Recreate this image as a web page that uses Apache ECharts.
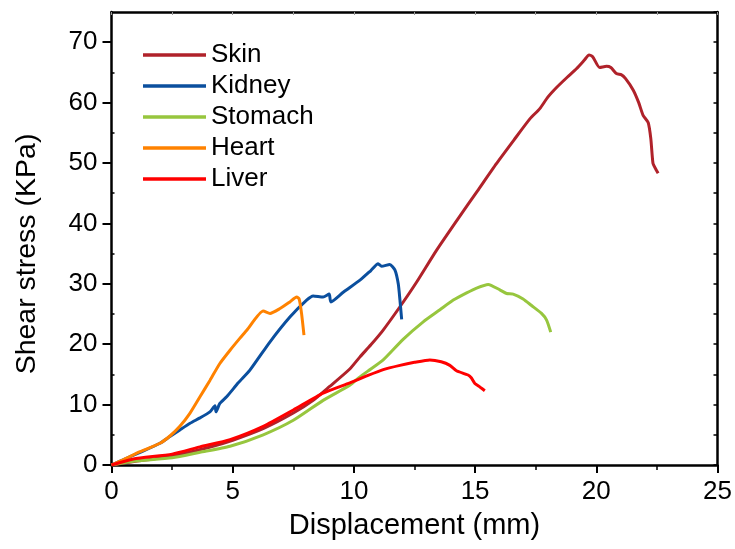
<!DOCTYPE html>
<html><head><meta charset="utf-8">
<script src="https://cdn.jsdelivr.net/npm/echarts@6/dist/echarts.min.js"></script>
<style>html,body{margin:0;padding:0;background:#fff}#c{width:735px;height:549px}</style>
</head><body><div id="c"></div>
<script>
const seriesNames = ['Skin', 'Kidney', 'Stomach', 'Heart', 'Liver'];
const colors = ['#B0222A', '#0B4F9E', '#97C63E', '#FF8200', '#FF0000'];
const xTicks = [0, 5, 10, 15, 20, 25];
const yTicks = [0, 10, 20, 30, 40, 50, 60, 70];
const yMinorTicks = [5, 15, 25, 35, 45, 55, 65];

const skin = [[0,0],[1,0.6],[2.5,1.5],[4,2.9],[5,4.1],[6.3,6.1],[7.5,8.6],[8.32,10.7],[9.0,13.0],[9.83,15.9],[10.25,17.9],[10.7,19.9],[11.2,22.3],[11.9,26.2],[12.59,30.3],[13.4,35.5],[14.3,40.8],[15.1,45.4],[15.88,49.9],[16.6,53.8],[17.26,57.3],[17.67,59.0],[18.0,60.9],[18.36,62.5],[18.8,64.2],[19.18,65.6],[19.5,67.0],[19.7,67.9],[19.85,67.6],[20.14,65.8],[20.42,66.0],[20.6,65.8],[20.83,64.8],[21.04,64.6],[21.2,64.0],[21.52,62.1],[21.75,60.0],[21.93,57.9],[22.14,56.7],[22.25,54.0],[22.34,49.9],[22.45,49.0],[22.55,48.3]];
const kidney = [[0,0],[0.5,0.9],[1.18,2.1],[2.0,3.6],[2.41,4.7],[2.82,5.8],[3.24,6.9],[3.65,7.8],[4.06,8.8],[4.27,9.8],[4.31,8.8],[4.47,10.2],[4.75,11.3],[5.23,13.6],[5.71,15.7],[6.54,20.4],[7.36,24.5],[8.05,27.3],[8.32,28.0],[8.73,27.8],[8.98,28.3],[9.05,27.0],[9.56,28.6],[10.25,30.6],[10.7,32.2],[11.0,33.3],[11.14,32.9],[11.48,33.2],[11.69,32.3],[11.83,30.0],[11.9,27.3],[11.97,24.1]];
const stomach = [[0,0],[0.9,0.6],[2.5,1.2],[3.65,2.1],[4.89,3.1],[6.26,5.0],[7.5,7.4],[8.73,10.7],[9.83,13.2],[10.25,14.6],[10.7,15.9],[11.21,17.4],[12.03,20.8],[12.86,23.7],[13.55,25.7],[14.1,27.3],[14.65,28.5],[15.06,29.3],[15.54,29.9],[16.02,29.0],[16.3,28.4],[16.57,28.3],[16.98,27.5],[17.33,26.4],[17.74,25.1],[17.95,24.0],[18.12,22.0]];
const heart = [[0,0],[0.5,0.9],[1.18,2.2],[2.0,3.6],[2.41,4.8],[2.82,6.4],[3.24,8.6],[3.65,11.3],[4.06,14.0],[4.47,16.8],[4.89,19.0],[5.3,21.0],[5.58,22.3],[6.26,25.5],[6.54,25.1],[6.95,25.9],[7.36,27.0],[7.64,27.8],[7.74,27.5],[7.84,25.1],[7.94,21.5]];
const liver = [[0,0],[0.9,1.0],[2.5,1.8],[3.65,3.0],[4.89,4.2],[6.26,6.4],[7.5,9.1],[8.73,11.9],[9.83,13.6],[10.5,14.7],[11.21,15.8],[11.9,16.5],[12.5,17.0],[13.13,17.4],[13.6,17.1],[13.96,16.5],[14.23,15.6],[14.71,14.9],[14.85,14.4],[14.99,13.5],[15.2,12.9],[15.4,12.3]];
const dataSets = [skin, kidney, stomach, heart, liver];

const chart = echarts.init(document.getElementById('c'), null, {renderer: 'canvas'});
const font = 'Liberation Sans, Arial, sans-serif';
const hidden = {axisLabel: {show: false}, splitLine: {show: false}};
chart.setOption({
  animation: false,
  backgroundColor: '#fff',
  grid: {left: 111.5, right: 17.5, top: 12, bottom: 84, containLabel: false},
  legend: {
    left: 143, top: 42, padding: 0, orient: 'vertical', icon: 'rect', itemWidth: 63, itemHeight: 3.5, itemGap: 5,
    textStyle: {fontFamily: font, fontSize: 26, color: '#000', lineHeight: 26},
    data: seriesNames
  },
  xAxis: [{
    type: 'value', min: xTicks[0], max: xTicks[xTicks.length-1], interval: 5,
    name: 'Displacement (mm)', nameLocation: 'middle', nameGap: 46.5,
    nameTextStyle: {fontFamily: font, fontSize: 29, color: '#000'},
    axisLine: {show: true, onZero: false, lineStyle: {color: '#000', width: 2.5}},
    axisTick: {show: true, inside: false, length: 8, lineStyle: {color: '#000', width: 2}},
    minorTick: {show: true, splitNumber: 2, length: 5, lineStyle: {color: '#000', width: 1.5}},
    axisLabel: {fontFamily: font, fontSize: 26, color: '#000', margin: 14},
    splitLine: {show: false}
  }, Object.assign({
    type: 'value', position: 'top', min: 0, max: 25, interval: 2.5,
    axisLine: {show: true, onZero: false, lineStyle: {color: '#000', width: 2.5}},
    axisTick: {show: true, inside: true, length: 3, lineStyle: {color: '#999', width: 1}}
  }, hidden)],
  yAxis: [{
    type: 'value', min: yTicks[0], max: 75, interval: 5,
    name: 'Shear stress (KPa)', nameLocation: 'middle', nameGap: 69.5, nameRotate: 90,
    nameTextStyle: {fontFamily: font, fontSize: 28.5, color: '#000', padding: [0, 31, 0, 0]},
    axisLine: {show: true, onZero: false, lineStyle: {color: '#000', width: 2.5}},
    axisTick: {show: true, inside: false, length: 9, customValues: yTicks, lineStyle: {color: '#000', width: 2}},
    axisLabel: {fontFamily: font, fontSize: 26, color: '#000', margin: 14, customValues: yTicks},
    splitLine: {show: false}
  }, Object.assign({
    type: 'value', position: 'left', min: 0, max: 75, interval: 5,
    axisLine: {show: false},
    axisTick: {show: true, inside: true, length: 3, customValues: yMinorTicks, lineStyle: {color: '#000', width: 1.5}}
  }, hidden), Object.assign({
    type: 'value', position: 'right', min: 0, max: 75, interval: 5,
    axisLine: {show: true, onZero: false, lineStyle: {color: '#000', width: 2.5}},
    axisTick: {show: true, inside: true, length: 4, lineStyle: {color: '#000', width: 1.5}}
  }, hidden)],
  series: seriesNames.map((n, i) => ({
    name: n, type: 'line', data: dataSets[i], showSymbol: false, symbol: 'none', smooth: 0.2,
    color: colors[i], lineStyle: {width: 3, color: colors[i]}, xAxisIndex: 0, yAxisIndex: 0
  }))
});
</script></body></html>
